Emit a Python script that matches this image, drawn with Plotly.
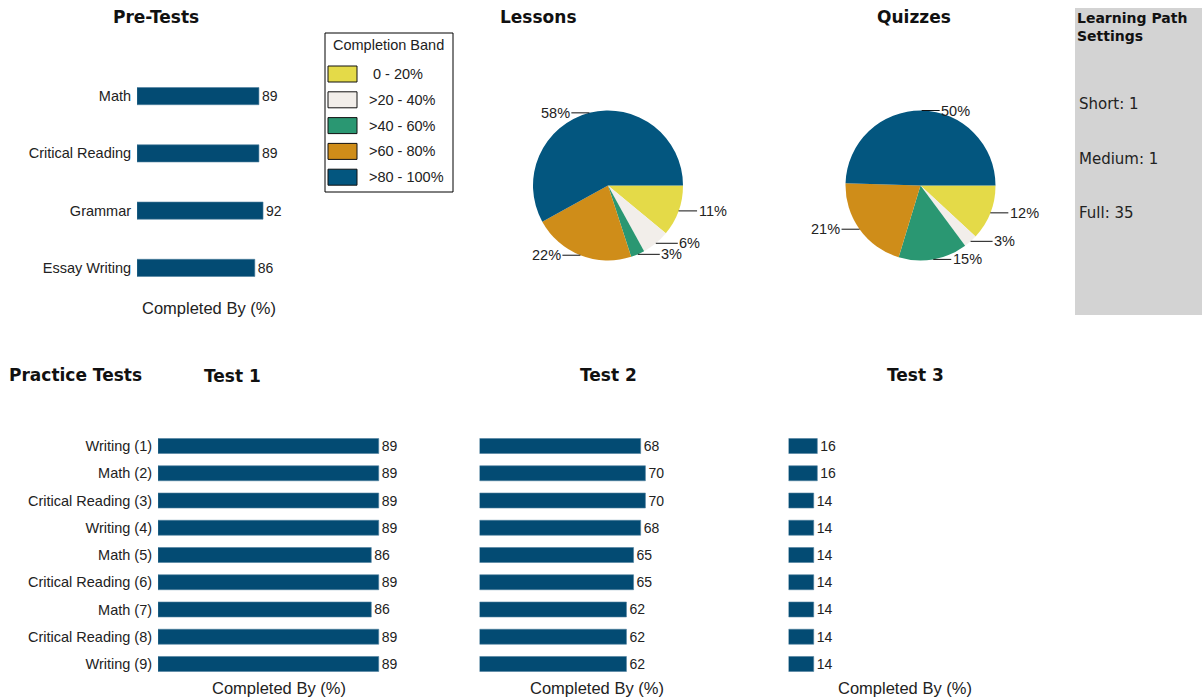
import math
import plotly.graph_objects as go

# ---------------- data ----------------
pre_categories = ["Math", "Critical Reading", "Grammar", "Essay Writing"]
pre_values = [89, 89, 92, 86]

practice_categories = ["Writing (1)", "Math (2)", "Critical Reading (3)", "Writing (4)",
                       "Math (5)", "Critical Reading (6)", "Math (7)",
                       "Critical Reading (8)", "Writing (9)"]
test1_values = [89, 89, 89, 89, 86, 89, 86, 89, 89]
test2_values = [68, 70, 70, 68, 65, 65, 62, 62, 62]
test3_values = [16, 16, 14, 14, 14, 14, 14, 14, 14]

bands = ["0 - 20%", ">20 - 40%", ">40 - 60%", ">60 - 80%", ">80 - 100%"]
band_colors = ["#e4da48", "#f2eeea", "#2a9772", "#cf8d19", "#03567f"]
lessons_values = [11, 6, 3, 22, 58]
quizzes_values = [12, 3, 15, 21, 50]

settings_labels = ["Short", "Medium", "Full"]
settings_values = [1, 1, 35]

# ---------------- layout helpers ----------------
W, H = 1202, 698
BAR = "#034b73"
TXT = "#222222"
ARIAL = "Arial, Liberation Sans, sans-serif"
BOLD = "DejaVu Sans, Verdana, sans-serif"


def X(px):
    return px / W


def Y(py):
    return 1 - py / H


fig = go.Figure()

# Pre-tests bars
fig.add_trace(go.Bar(
    x=pre_values, y=pre_categories, orientation="h", xaxis="x", yaxis="y",
    marker=dict(color=BAR, line=dict(color="#4f7f9e", width=0.6)), width=0.3,
    text=pre_values, textposition="outside", cliponaxis=False, constraintext="none",
    textfont=dict(family=ARIAL, size=14, color=TXT), showlegend=False))

# Practice test bars
for vals, xa, ya in [(test1_values, "x2", "y2"), (test2_values, "x3", "y3"),
                     (test3_values, "x4", "y4")]:
    fig.add_trace(go.Bar(
        x=vals, y=practice_categories, orientation="h", xaxis=xa, yaxis=ya,
        marker=dict(color=BAR, line=dict(color="#4f7f9e", width=0.6)), width=0.55,
        text=vals, textposition="outside", cliponaxis=False, constraintext="none",
        textfont=dict(family=ARIAL, size=14, color=TXT), showlegend=False))

# Pies
pie_specs = [(lessons_values, 608, 185.5), (quizzes_values, 920.5, 185.5)]
R = 75
annotations = []
for vals, cx, cy in pie_specs:
    fig.add_trace(go.Pie(
        values=vals, labels=bands, sort=False, direction="clockwise", rotation=90,
        marker=dict(colors=band_colors, line=dict(width=0)), textinfo="none",
        domain=dict(x=[X(cx - R), X(cx + R)], y=[Y(cy + R), Y(cy - R)]),
        showlegend=False, hoverinfo="label+percent"))
    total = sum(vals)
    cum = 0
    for v in vals:
        theta = 2 * math.pi * (cum + v / 2) / total
        cum += v
        ex = cx + R * math.cos(theta)
        ey = cy + R * math.sin(theta)
        right = math.cos(theta) > -0.02
        annotations.append(dict(
            x=X(ex), y=Y(ey), xref="paper", yref="paper",
            text=f"{round(100 * v / total)}%", showarrow=True, arrowhead=0,
            arrowwidth=1, arrowcolor="#111", ax=34 if right else -34, ay=0,
            standoff=0, startstandoff=0,
            font=dict(family=ARIAL, size=14.5, color=TXT)))

# Axes
def xaxis(px0, px1, rng):
    return dict(domain=[X(px0), X(px1)], range=rng, showgrid=False, zeroline=False,
                showticklabels=False, showline=False, fixedrange=True)


def yaxis(py_top, py_bot, cats, show, anchor):
    return dict(domain=[Y(py_bot), Y(py_top)], categoryorder="array", categoryarray=cats,
                range=[len(cats) - 0.5, -0.5], showgrid=False, zeroline=False,
                showticklabels=show, ticks="outside" if show else "", ticklen=2,
                tickcolor="rgba(0,0,0,0)", showline=False, anchor=anchor,
                tickfont=dict(family=ARIAL, size=14.5, color=TXT), fixedrange=True)


row_gap = 57
fig.update_layout(
    xaxis=dict(xaxis(137, 274, [0, 100]), anchor="y"),
    yaxis=yaxis(96 - row_gap / 2, 268 + row_gap / 2, pre_categories, True, "x"),
    xaxis2=dict(xaxis(158, 406, [0, 100]), anchor="y2"),
    yaxis2=yaxis(446 - 13.6, 664 + 13.6, practice_categories, True, "x2"),
    xaxis3=dict(xaxis(479.5, 716.5, [0, 100]), anchor="y3"),
    yaxis3=yaxis(446 - 13.6, 664 + 13.6, practice_categories, False, "x3"),
    xaxis4=dict(xaxis(788.5, 968.5, [0, 100]), anchor="y4"),
    yaxis4=yaxis(446 - 13.6, 664 + 13.6, practice_categories, False, "x4"),
)

# Titles
titles = [("Pre-Tests", 156, 17), ("Lessons", 538, 17), ("Quizzes", 914, 17),
          ("Test 1", 232, 376), ("Test 2", 608, 375), ("Test 3", 915, 375)]
for t, px, py in titles:
    annotations.append(dict(x=X(px), y=Y(py), xref="paper", yref="paper", text=f"<b>{t}</b>",
                            showarrow=False, xanchor="center", yanchor="middle",
                            font=dict(family=BOLD, size=17, color="#111")))
annotations.append(dict(x=X(7), y=Y(375), xref="paper", yref="paper", text="<b>Practice Tests</b>",
                        showarrow=False, xanchor="left", yanchor="middle",
                        font=dict(family=BOLD, size=17, color="#111")))

for px, py in [(209, 308), (279, 688), (597, 688), (905, 688)]:
    annotations.append(dict(x=X(px), y=Y(py), xref="paper", yref="paper", text="Completed By (%)",
                            showarrow=False, xanchor="center", yanchor="middle",
                            font=dict(family=ARIAL, size=16.5, color=TXT)))

# Legend (Completion Band)
shapes = [dict(type="rect", xref="paper", yref="paper", x0=X(325), x1=X(453), y0=Y(192), y1=Y(33),
               line=dict(color="#000", width=1), fillcolor="white", layer="below")]
annotations.append(dict(x=X(388), y=Y(45), xref="paper", yref="paper", text="Completion Band",
                        showarrow=False, xanchor="center", yanchor="middle",
                        font=dict(family=ARIAL, size=14.5, color=TXT)))
for i, (b, c) in enumerate(zip(bands, band_colors)):
    cyl = 74 + i * 25.8
    shapes.append(dict(type="rect", xref="paper", yref="paper", x0=X(328), x1=X(357),
                       y0=Y(cyl + 8), y1=Y(cyl - 8), line=dict(color="#111", width=1),
                       fillcolor=c))
    annotations.append(dict(x=X(367 if i else 371), y=Y(cyl), xref="paper", yref="paper", text=b,
                            showarrow=False, xanchor="left", yanchor="middle",
                            font=dict(family=ARIAL, size=14.5, color=TXT)))

# Learning Path Settings panel
shapes.append(dict(type="rect", xref="paper", yref="paper", x0=X(1075), x1=X(1202),
                   y0=Y(315), y1=Y(8), line=dict(width=0), fillcolor="#d3d3d3", layer="below"))
annotations.append(dict(x=X(1075), y=Y(8), xref="paper", yref="paper",
                        text="<b>Learning Path<br>Settings</b>", showarrow=False,
                        xanchor="left", yanchor="top", align="left",
                        font=dict(family=BOLD, size=14, color="#111")))
for i, (lab, val) in enumerate(zip(settings_labels, settings_values)):
    annotations.append(dict(x=X(1077), y=Y(104 + i * 54.5), xref="paper", yref="paper",
                            text=f"{lab}: {val}", showarrow=False, xanchor="left",
                            yanchor="middle", font=dict(family=BOLD, size=15, color="#222")))

fig.update_layout(
    width=W, height=H, margin=dict(l=0, r=0, t=0, b=0),
    paper_bgcolor="white", plot_bgcolor="white",
    shapes=shapes, annotations=annotations, showlegend=False, bargap=0.45,
)

fig.write_html("out.html", config={"displayModeBar": False},
               post_script="document.body.style.margin='0';document.body.style.overflow='hidden';")
